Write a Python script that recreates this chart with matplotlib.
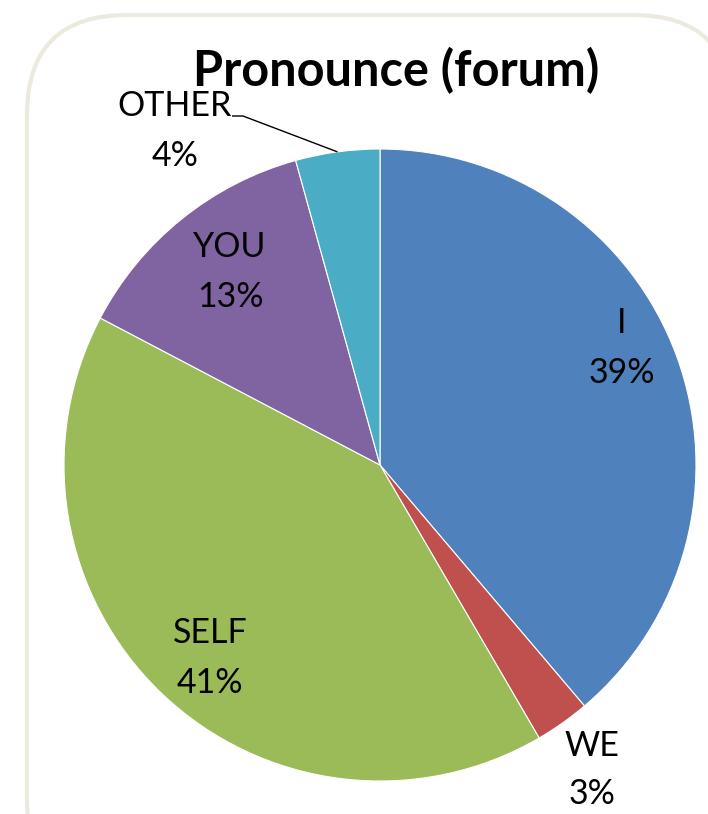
import numpy as np
import matplotlib
matplotlib.use("Agg")
import matplotlib.pyplot as plt
from matplotlib.patches import FancyBboxPatch

# ---- data ----
categories = ["I", "WE", "SELF", "YOU", "OTHER"]
values = [38.8, 2.8, 41.1, 13.0, 4.3]
pct_labels = ["39%", "3%", "41%", "13%", "4%"]
colors = ["#4F81BD", "#C0504D", "#9BBB59", "#8064A2", "#4BACC6"]
title = "Pronounce (forum)"

W, H = 708, 814
fig = plt.figure(figsize=(W / 100, H / 100), dpi=100)
ax = fig.add_axes([0, 0, 1, 1])

def Y(y):  # image row -> data y
    return H - y

# border
border = FancyBboxPatch((27, Y(900)), 706, 885,
                        boxstyle="round,pad=0,rounding_size=100",
                        fc="white", ec="#ECE9DF", lw=3.0, zorder=0)
ax.add_patch(border)

cx, cy, R = 380, Y(465), 316
wedges, _ = ax.pie(values, colors=colors, startangle=90, counterclock=False,
                   center=(cx, cy), radius=R,
                   wedgeprops=dict(edgecolor="white", linewidth=0.8))

ax.set_xlim(0, W)
ax.set_ylim(0, H)
ax.set_aspect("equal")
ax.axis("off")

font = "Lato"
lab_fs = 24.5
# label block centres (image px)
label_pos = {"I": (622, 348), "WE": (592, 770), "SELF": (210, 658),
             "YOU": (230, 272), "OTHER": (175, 131)}
spacing = {"WE": 1.6}
for cat, pct in zip(categories, pct_labels):
    x, y = label_pos[cat]
    ax.text(x, Y(y), f"{cat}\n{pct}", ha="center", va="center",
            fontsize=lab_fs, family=font, linespacing=spacing.get(cat, 1.7),
            color="black")

# leader for OTHER
w = wedges[categories.index("OTHER")]
mid = np.deg2rad((w.theta1 + w.theta2) / 2)
ex, ey = cx + R * np.cos(mid), cy + R * np.sin(mid)
ax.plot([232, 243, ex], [Y(116), Y(116), ey], color="black", lw=1.0,
        solid_capstyle="butt", zorder=5)

ax.text(396, Y(86), title, ha="center", va="baseline", fontsize=35,
        family=font, fontweight="bold", color="black")

fig.savefig("out.png", dpi=100)
